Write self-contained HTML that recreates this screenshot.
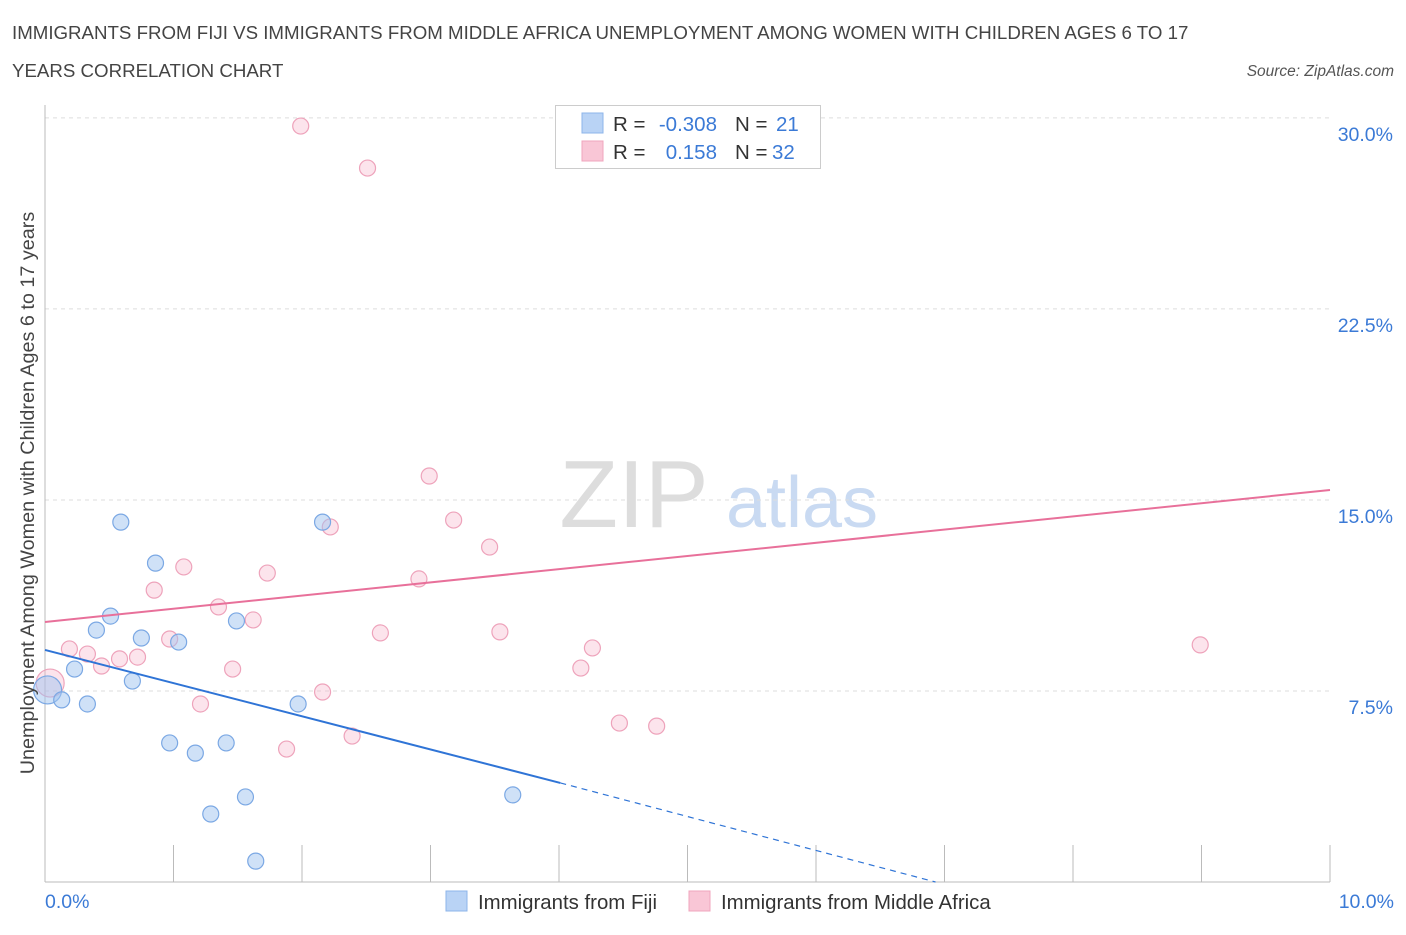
<!DOCTYPE html>
<html><head><meta charset="utf-8"><style>
body{margin:0;background:#fff;font-family:"Liberation Sans",sans-serif;}
svg text{font-family:"Liberation Sans",sans-serif;}
</style></head><body>
<svg id="chart" width="1406" height="930" xmlns="http://www.w3.org/2000/svg">
<text x="12" y="39" font-size="18.7" fill="#444">IMMIGRANTS FROM FIJI VS IMMIGRANTS FROM MIDDLE AFRICA UNEMPLOYMENT AMONG WOMEN WITH CHILDREN AGES 6 TO 17</text>
<text x="12" y="77" font-size="18.7" fill="#444">YEARS CORRELATION CHART</text>
<text x="1394" y="76" font-size="15.5" fill="#555" font-style="italic" text-anchor="end">Source: ZipAtlas.com</text>
<g>
<text x="634" y="527" font-size="96" fill="#ddd" font-family="Liberation Serif,serif" text-anchor="middle">ZIP</text>
<text x="802" y="527" font-size="72" fill="#c9daf2" text-anchor="middle">atlas</text>
</g>
<g id="grid"></g>
<g id="axes"></g>
<g id="marks"></g>
<text transform="translate(34,493) rotate(-90)" font-size="19.8" fill="#444" text-anchor="middle">Unemployment Among Women with Children Ages 6 to 17 years</text>
<text x="45" y="908" font-size="19.5" fill="#3b7ad6">0.0%</text>
<text x="1394" y="908" font-size="19.5" fill="#3b7ad6" text-anchor="end">10.0%</text>
<g>
<rect x="555.5" y="105.5" width="265" height="63" fill="#fff" stroke="#ccc"/>
<rect x="582" y="113" width="21" height="20" fill="#b9d3f5" stroke="#8db4ea"/>
<rect x="582" y="141" width="21" height="20" fill="#f9c6d6" stroke="#f0a5bd"/>
<text x="613" y="131" font-size="20.5" fill="#333">R =</text>
<text x="717" y="131" font-size="20.5" fill="#3b7ad6" text-anchor="end">-0.308</text>
<text x="735" y="131" font-size="20.5" fill="#333">N =</text>
<text x="776" y="131" font-size="20.5" fill="#3b7ad6">21</text>
<text x="613" y="159" font-size="20.5" fill="#333">R =</text>
<text x="717" y="159" font-size="20.5" fill="#3b7ad6" text-anchor="end">0.158</text>
<text x="735" y="159" font-size="20.5" fill="#333">N =</text>
<text x="772" y="159" font-size="20.5" fill="#3b7ad6">32</text>
</g>
<g>
<rect x="446" y="891" width="21" height="20" fill="#b9d3f5" stroke="#8db4ea"/>
<text x="478" y="909" font-size="20.4" fill="#333">Immigrants from Fiji</text>
<rect x="689" y="891" width="21" height="20" fill="#f9c6d6" stroke="#f0a5bd"/>
<text x="721" y="909" font-size="20.4" fill="#333">Immigrants from Middle Africa</text>
</g>
</svg>
<script>
const yTicks=[7.5,15,22.5,30];
const yTickLabels=["7.5%","15.0%","22.5%","30.0%"];
const xTicks=[0,1,2,3,4,5,6,7,8,9,10];
const fijiX=[0.02,0.13,0.23,0.33,0.40,0.51,0.59,0.68,0.75,0.86,0.97,1.04,1.17,1.29,1.41,1.49,1.56,1.64,1.97,2.16,3.64];
const fijiY=[7.54,7.15,8.36,6.99,9.89,10.44,14.13,7.89,9.58,12.52,5.46,9.42,5.06,2.67,5.46,10.25,3.34,0.82,6.99,14.13,3.42];
const afrX=[0.04,0.19,0.33,0.44,0.58,0.72,0.85,0.97,1.08,1.21,1.35,1.46,1.62,1.73,1.88,1.99,2.16,2.22,2.39,2.51,2.61,2.91,2.99,3.18,3.46,3.54,4.17,4.26,4.47,4.76,5.66,8.99];
const afrY=[7.81,9.15,8.95,8.48,8.76,8.83,11.46,9.54,12.37,6.99,10.80,8.36,10.29,12.13,5.22,29.68,7.46,13.94,5.73,28.03,9.78,11.90,15.94,14.21,13.15,9.82,8.40,9.19,6.24,6.12,28.54,9.31];
const fijiTrendX=[0,4.01,6.93];
const fijiTrendY=[9.11,3.89,0];
const afrTrendX=[0,10];
const afrTrendY=[10.21,15.39];

const NS="http://www.w3.org/2000/svg";
const xs=v=>45+v*128.5;
const ys=v=>882-v*25.47;
function mk(tag,attrs,parent){const e=document.createElementNS(NS,tag);for(const k in attrs)e.setAttribute(k,attrs[k]);document.getElementById(parent).appendChild(e);return e;}
yTicks.forEach((t,i)=>{
 const g=mk('line',{x1:45,x2:1330,y1:ys(t),y2:ys(t),stroke:'#ddd','stroke-dasharray':'4 4'},'grid');
 
 
 const l=mk('text',{x:1393,y:ys(t)+23,'font-size':19.5,fill:'#3b7ad6','text-anchor':'end'},'grid');
 l.textContent=yTickLabels[i];
 
 
});
const ax=mk('line',{x1:45,x2:1330,y1:882,y2:882,stroke:'#bbb'},'axes');


const ay=mk('line',{x1:45,x2:45,y1:105,y2:882,stroke:'#bbb'},'axes');


xTicks.forEach(t=>{
 const e=mk('line',{x1:xs(t),x2:xs(t),y1:845,y2:882,stroke:'#bbb'},'axes');
 
 
});
function pts(X,Y,fill,stroke,name){
 X.forEach((x,i)=>{
  const r=i===0?14:8;
  const c=mk('circle',{cx:xs(x),cy:ys(Y[i]),r:r,fill:fill,stroke:stroke,'stroke-width':1.2},'marks');
  
  
 });
}
pts(afrX,afrY,'rgba(246,178,200,0.35)','#eea3bb','point-middle-africa');
pts(fijiX,fijiY,'rgba(160,196,240,0.5)','#7ba8e4','point-fiji');
const b1=mk('line',{x1:xs(fijiTrendX[0]),y1:ys(fijiTrendY[0]),x2:xs(fijiTrendX[1]),y2:ys(fijiTrendY[1]),stroke:'#2f74d6','stroke-width':2},'marks');


const b2=mk('line',{x1:xs(fijiTrendX[1]),y1:ys(fijiTrendY[1]),x2:xs(fijiTrendX[2]),y2:ys(fijiTrendY[2]),stroke:'#2f74d6','stroke-width':1.2,'stroke-dasharray':'6 5'},'marks');


const p1=mk('line',{x1:xs(afrTrendX[0]),y1:ys(afrTrendY[0]),x2:xs(afrTrendX[1]),y2:ys(afrTrendY[1]),stroke:'#e8709a','stroke-width':2},'marks');


</script>
</body></html>
